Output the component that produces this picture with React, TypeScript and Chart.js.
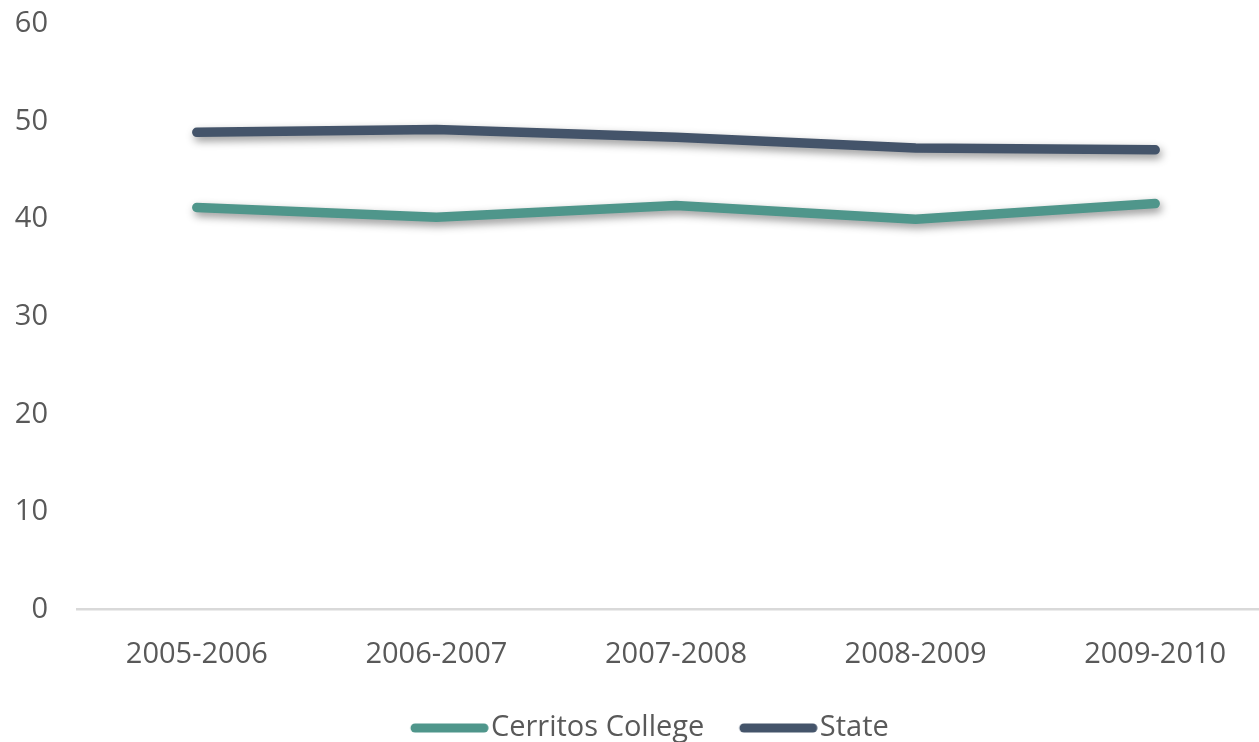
import React, { useEffect, useRef } from "react";
import { Chart, registerables } from "chart.js";

Chart.register(...registerables);

const categories = ["2005-2006", "2006-2007", "2007-2008", "2008-2009", "2009-2010"];
const cerritosValues = [41.2, 40.2, 41.4, 40.0, 41.6];
const stateValues = [48.9, 49.2, 48.4, 47.3, 47.1];
const seriesNames = ["Cerritos College", "State"];
const yMin = 0;
const yMax = 60;
const yStep = 10;

const TEAL = "#4F968B";
const NAVY = "#44546A";
const TEXT = "#595959";
const AXIS = "#D9D9D9";
const FONT = "'Open Sans', sans-serif";
const FONT_SIZE = 29;

// legend geometry
const LEG_PAD = 3.75;
const LEG_LEAD = 31.25;
const LEG_LINE = 78;
const LEG_BOX = LEG_LEAD + 66;
const LEGEND_DX = -11;
const LEGEND_DY = 10.5;
const Y_AXIS_WIDTH = 62;
const LINE_W = 9.5;

function makeLegendLine(color: string): HTMLCanvasElement {
  const W = 130;
  const H = 14;
  const c = document.createElement("canvas");
  c.width = W;
  c.height = H;
  const g = c.getContext("2d")!;
  const imgLeft = LEG_BOX / 2 - W / 2; // relative to item x
  const start = LEG_LEAD - imgLeft + 4.5;
  const end = LEG_LEAD + LEG_LINE - imgLeft - 4.5;
  g.strokeStyle = color;
  g.lineWidth = 9;
  g.lineCap = "round";
  g.beginPath();
  g.moveTo(start, H / 2);
  g.lineTo(end, H / 2);
  g.stroke();
  return c;
}

const shadowPlugin = {
  id: "lineShadow",
  beforeDatasetsDraw(chart: any) {
    const ctx = chart.ctx;
    ctx.save();
    ctx.shadowColor = "rgba(0,0,0,0.42)";
    ctx.shadowBlur = 8;
    ctx.shadowOffsetX = 2;
    ctx.shadowOffsetY = 4;
  },
  afterDatasetsDraw(chart: any) {
    chart.ctx.restore();
  },
};

const legendShiftPlugin = {
  id: "legendShift",
  afterLayout(chart: any) {
    const l = chart.legend;
    if (!l) return;
    l.left += LEGEND_DX;
    l.right += LEGEND_DX;
    l.top += LEGEND_DY;
    l.bottom += LEGEND_DY;
  },
};

const noScalePadding = (scale: any) => {
  scale.paddingTop = 0;
  scale.paddingBottom = 0;
  scale.paddingLeft = 0;
  scale.paddingRight = 0;
};

export default function App() {
  const canvasRef = useRef<HTMLCanvasElement | null>(null);

  useEffect(() => {
    if (!canvasRef.current) return;
    const colors = [TEAL, NAVY];
    const legendImgs = colors.map(makeLegendLine);
    const chart = new Chart(canvasRef.current, {
      type: "line",
      data: {
        labels: categories,
        datasets: [
          {
            label: seriesNames[0],
            data: cerritosValues,
            borderColor: TEAL,
            backgroundColor: TEAL,
            borderWidth: LINE_W,
            borderCapStyle: "round",
            borderJoinStyle: "round",
            pointRadius: 0,
            tension: 0,
            fill: false,
          },
          {
            label: seriesNames[1],
            data: stateValues,
            borderColor: NAVY,
            backgroundColor: NAVY,
            borderWidth: LINE_W,
            borderCapStyle: "round",
            borderJoinStyle: "round",
            pointRadius: 0,
            tension: 0,
            fill: false,
          },
        ],
      },
      options: {
        responsive: false,
        animation: false,
        layout: { padding: { top: 24, left: 15, right: 0, bottom: 0 } },
        scales: {
          x: {
            offset: true,
            grid: { display: false, drawTicks: false },
            border: { display: true, color: AXIS, width: 2.5 },
            afterFit: noScalePadding,
            ticks: {
              color: TEXT,
              padding: 27.5,
              font: { family: FONT, size: FONT_SIZE },
              maxRotation: 0,
            },
          },
          y: {
            min: yMin,
            max: yMax,
            grid: { display: false, drawTicks: false },
            border: { display: false },
            afterFit: (scale: any) => {
              noScalePadding(scale);
              scale.width = Y_AXIS_WIDTH;
            },
            ticks: {
              stepSize: yStep,
              color: TEXT,
              padding: 29,
              font: { family: FONT, size: FONT_SIZE },
            },
          },
        },
        plugins: {
          tooltip: { enabled: false },
          legend: {
            position: "bottom",
            labels: {
              color: TEXT,
              font: { family: FONT, size: FONT_SIZE },
              usePointStyle: true,
              pointStyleWidth: LEG_BOX,
              padding: LEG_PAD,
              generateLabels: (c: any) =>
                Chart.defaults.plugins.legend.labels
                  .generateLabels(c)
                  .map((item: any, i: number) => ({ ...item, pointStyle: legendImgs[i] })),
            },
          },
        },
      },
      plugins: [shadowPlugin, legendShiftPlugin],
    } as any);
    return () => chart.destroy();
  }, []);

  return (
    <div
      style={{
        position: "fixed",
        left: 0,
        top: 0,
        width: 1259,
        height: 742,
        overflow: "hidden",
        background: "#ffffff",
      }}
    >
      <canvas ref={canvasRef} width={1275} height={742} style={{ display: "block" }} />
    </div>
  );
}
